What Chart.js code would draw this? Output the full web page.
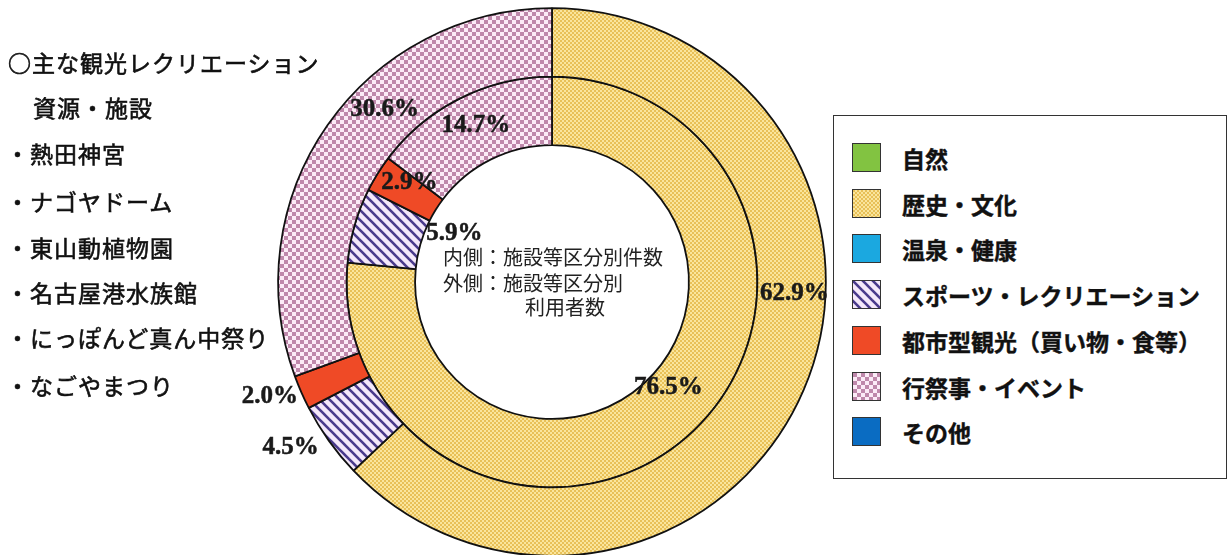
<!DOCTYPE html>
<html>
<head>
<meta charset="utf-8">
<script src="https://cdn.jsdelivr.net/npm/chart.js@4.4.1/dist/chart.umd.min.js"></script>
<style>
  html, body { margin: 0; padding: 0; background: #fff; width: 1229px; height: 555px; overflow: hidden; }
  body { position: relative; font-family: "Noto Sans CJK JP", sans-serif; color: #111; }
  #chart { position: absolute; left: 0; top: 0; }
  .side { position: absolute; font-size: 23px; font-weight: 400; line-height: 30px; letter-spacing: 1px; white-space: nowrap; -webkit-text-stroke: 0.6px #111; }
  .note { position: absolute; font-size: 20px; font-weight: 400; line-height: 24px; white-space: nowrap; color: #222; }
  #legend { position: absolute; left: 833px; top: 115px; width: 392px; height: 362px; border: 1.8px solid #333; background: #fff; }
  .row { position: absolute; left: 0; height: 30px; }
  .sw { position: absolute; left: 18px; top: 0; width: 27px; height: 27px; border: 1.6px solid #333; }
  .lt { position: absolute; left: 68px; top: 0; font-size: 23px; font-weight: 700; line-height: 30px; white-space: nowrap; -webkit-text-stroke: 0.4px #111; }
</style>
</head>
<body>
<canvas id="chart" width="1229" height="570"></canvas>
<div id="side"></div>
<div id="notes"></div>
<div id="legend"></div>
<script>
// categories (legend order = drawing order, clockwise from 12 o'clock)
const categories = ['自然', '歴史・文化', '温泉・健康', 'スポーツ・レクリエーション', '都市型観光（買い物・食等）', '行祭事・イベント', 'その他'];
// outer ring: share of visitors by facility category (%)
const visitorShare = [0, 62.9, 0, 4.5, 2.0, 30.6, 0];
// inner ring: share of facility count by category (%)
const facilityShare = [0, 76.5, 0, 5.9, 2.9, 14.7, 0];

const sideTitle = ['○主な観光レクリエーション', '資源・施設'];
const facilities = ['熱田神宮', 'ナゴヤドーム', '東山動植物園', '名古屋港水族館', 'にっぽんど真ん中祭り', 'なごやまつり'];
const centerNote = ['内側：施設等区分別件数', '外側：施設等区分別', '利用者数'];

// label placement along each arc: [fraction of the arc, radial offset from ring middle]
const outerLabelAt = [null, [0.41, 3], null, [0.69, 70], [0.72, 65], [0.6, 1], null];
const innerLabelAt = [null, [0.48, -14], null, [1.0, -62], [0.8, 3], [0.51, 3], null];

function tile(size, paint) {
  const c = document.createElement('canvas');
  c.width = size; c.height = size;
  paint(c.getContext('2d'), size);
  return c;
}
function checker(size, light, dark) {
  return tile(size * 2, (g, s) => {
    g.fillStyle = light; g.fillRect(0, 0, s, s);
    g.fillStyle = dark; g.fillRect(0, 0, s / 2, s / 2); g.fillRect(s / 2, s / 2, s / 2, s / 2);
  });
}
const tiles = [
  null,
  checker(2, '#fae59c', '#e8c057'),
  null,
  tile(10, (g, s) => {
    g.fillStyle = '#f4e8fa'; g.fillRect(0, 0, s, s);
    g.strokeStyle = '#4a3a8c'; g.lineWidth = 2.6;
    for (let k = -1; k <= 1; k++) { g.beginPath(); g.moveTo(k * s - 2, -2); g.lineTo(k * s + s + 2, s + 2); g.stroke(); }
  }),
  null,
  checker(4, '#fcebf7', '#bf88ab'),
  null
];
const solid = ['#82c341', null, '#1ba8e0', null, '#ef4a26', null, '#0a6cc2'];

const probe = document.createElement('canvas').getContext('2d');
const fills = categories.map((c, i) => tiles[i] ? probe.createPattern(tiles[i], 'repeat') : solid[i]);

const arcLabels = {
  id: 'arcLabels',
  afterDatasetsDraw(chart) {
    const ctx = chart.ctx;
    ctx.save();
    ctx.font = 'bold 25px "Liberation Serif", serif';
    ctx.fillStyle = '#1a1a1a';
    ctx.strokeStyle = '#1a1a1a';
    ctx.lineWidth = 0.5;
    ctx.textAlign = 'center';
    ctx.textBaseline = 'middle';
    [outerLabelAt, innerLabelAt].forEach((spots, d) => {
      const meta = chart.getDatasetMeta(d);
      const values = chart.data.datasets[d].data;
      meta.data.forEach((arc, i) => {
        if (!spots[i]) return;
        const p = arc.getProps(['x', 'y', 'startAngle', 'endAngle', 'innerRadius', 'outerRadius']);
        const a = p.startAngle + spots[i][0] * (p.endAngle - p.startAngle);
        const r = (p.innerRadius + p.outerRadius) / 2 + spots[i][1];
        const tx = p.x + r * Math.cos(a), ty = p.y + r * Math.sin(a);
        const s = values[i].toFixed(1) + '%';
        ctx.fillText(s, tx, ty);
        ctx.strokeText(s, tx, ty);
      });
    });
    ctx.restore();
  }
};

new Chart(document.getElementById('chart').getContext('2d'), {
  type: 'doughnut',
  data: {
    labels: categories,
    datasets: [
      { label: '施設等区分別利用者数', data: visitorShare, backgroundColor: fills, borderColor: '#111', borderWidth: 1.8 },
      { label: '施設等区分別件数', data: facilityShare, backgroundColor: fills, borderColor: '#111', borderWidth: 1.8 }
    ]
  },
  options: {
    responsive: false,
    animation: false,
    cutout: '50%',
    layout: { padding: { left: 0, right: 125, top: 7.25, bottom: 13.25 } },
    plugins: { legend: { display: false }, tooltip: { enabled: false } }
  },
  plugins: [arcLabels]
});

// left-hand list
const side = document.getElementById('side');
const sideRows = [
  { text: sideTitle[0], x: 8, y: 62 },
  { text: sideTitle[1], x: 33, y: 107 }
].concat(facilities.map((f, i) => ({ text: '・' + f, x: 6, y: [153, 201, 247, 292, 337, 385][i] })));
sideRows.forEach(r => {
  const el = document.createElement('div');
  el.className = 'side';
  el.textContent = r.text;
  el.style.left = r.x + 'px';
  el.style.top = (r.y - 15) + 'px';
  side.appendChild(el);
});

// note in the hole
const notes = document.getElementById('notes');
[[443, 257], [443, 283], [525, 307]].forEach((p, i) => {
  const el = document.createElement('div');
  el.className = 'note';
  el.textContent = centerNote[i];
  el.style.left = p[0] + 'px';
  el.style.top = (p[1] - 12) + 'px';
  notes.appendChild(el);
});

// legend
const legend = document.getElementById('legend');
categories.forEach((c, i) => {
  const row = document.createElement('div');
  row.className = 'row';
  row.style.top = (27 + i * 45.7) + 'px';
  const sw = document.createElement('div');
  sw.className = 'sw';
  if (tiles[i]) sw.style.backgroundImage = 'url(' + tiles[i].toDataURL() + ')';
  else sw.style.background = solid[i];
  const lt = document.createElement('div');
  lt.className = 'lt';
  lt.textContent = c;
  row.appendChild(sw);
  row.appendChild(lt);
  legend.appendChild(row);
});
</script>
</body>
</html>
